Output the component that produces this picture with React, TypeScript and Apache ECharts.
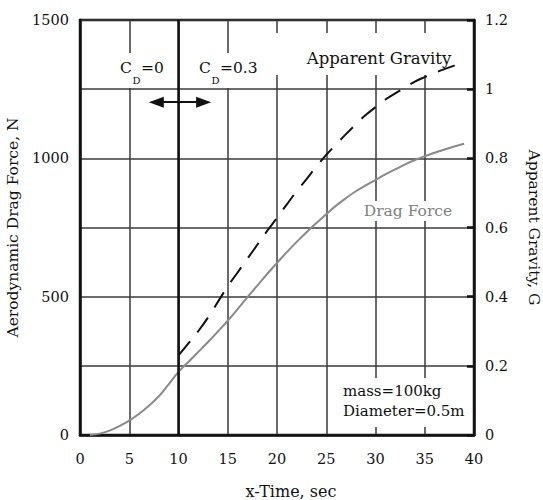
import React, { useEffect, useRef } from "react";
import * as echarts from "echarts";

// ---- data ----
const timeDrag = [1, 2, 3, 4, 5, 6, 7, 8, 9, 10, 11, 12, 13, 14, 15, 16, 17, 18, 19, 20, 21, 22, 23, 24, 25, 26, 27, 28, 29, 30, 31, 32, 33, 34, 35, 36, 37, 38, 39];
const dragForce = [0, 5, 16, 32, 52, 77, 106, 140, 183, 228, 264, 300, 336, 374, 413, 455, 498, 540, 582, 622, 661, 698, 733, 766, 798, 829, 856, 881, 902, 922, 942, 960, 978, 994, 1008, 1020, 1032, 1043, 1053];

const timeGravity = [10, 11, 12, 13, 14, 15, 16, 17, 18, 19, 20, 21, 22, 23, 24, 25, 26, 27, 28, 29, 30, 31, 32, 33, 34, 35, 36, 37, 38, 39];
const apparentGravity = [0.23, 0.265, 0.3, 0.34, 0.385, 0.43, 0.47, 0.51, 0.55, 0.59, 0.628, 0.667, 0.705, 0.74, 0.776, 0.81, 0.84, 0.87, 0.898, 0.925, 0.948, 0.97, 0.988, 1.005, 1.022, 1.035, 1.047, 1.058, 1.068, 1.078];

const cdBoundaryTime = 10;
const arrowFrom = [7.75, 1203];
const arrowTo = [12.55, 1203];

const xTitle = "x-Time, sec";
const yLeftTitle = "Aerodynamic Drag Force, N";
const yRightTitle = "Apparent Gravity, G";
const gravityLabel = "Apparent Gravity";
const dragLabel = "Drag Force";
const massLabel = "mass=100kg";
const diameterLabel = "Diameter=0.5m";

const FONT = "'DejaVu Serif', serif";
const INK = "#111";
const GRAY = "#8a8a8a";

function txt(x: number, y: number, text: string, size: number, align = "left", fill = INK, z = 4) {
  return {
    type: "text",
    z,
    silent: true,
    style: { x, y, text, align, verticalAlign: "middle", font: `${size}px ${FONT}`, fill },
  };
}

export default function App() {
  const ref = useRef<HTMLDivElement>(null);

  useEffect(() => {
    const chart = echarts.init(ref.current!, null, { renderer: "svg" });
    const dragData = timeDrag.map((t, i) => [t, dragForce[i]]);
    const gravData = timeGravity.map((t, i) => [t, apparentGravity[i]]);

    chart.setOption({
      animation: false,
      backgroundColor: "#fff",
      grid: {
        left: 80,
        right: 69,
        top: 20,
        bottom: 65,
        containLabel: false,
        outerBoundsMode: "none",
        show: true,
        borderColor: "#111",
        borderWidth: 2.5,
        backgroundColor: "transparent",
      },
      xAxis: {
        type: "value",
        min: 0,
        max: 40,
        interval: 5,
        name: xTitle,
        nameLocation: "middle",
        nameGap: 48,
        nameTextStyle: { fontFamily: FONT, fontSize: 16, color: INK, padding: [0, 0, 0, 28] },
        axisLine: { show: true, lineStyle: { color: "#111", width: 2.5 } },
        axisTick: { show: false },
        axisLabel: { margin: 16, fontFamily: FONT, fontSize: 14.5, color: INK },
        splitLine: { show: true, lineStyle: { color: "#3a3a3a", width: 1.5 } },
      },
      yAxis: [
        {
          type: "value",
          min: 0,
          max: 1500,
          interval: 250,
          name: yLeftTitle,
          nameLocation: "middle",
          nameGap: 46,
          nameTextStyle: { fontFamily: FONT, fontSize: 15.5, color: INK },
          axisLine: { show: true, lineStyle: { color: "#111", width: 2.5 } },
          axisTick: { show: false },
          axisLabel: {
            margin: 11,
            fontFamily: FONT,
            fontSize: 14.5,
            color: INK,
            formatter: (v: number) => (v % 500 === 0 ? String(v) : ""),
          },
          splitLine: { show: true, lineStyle: { color: "#3a3a3a", width: 1.5 } },
        },
        {
          type: "value",
          min: 0,
          max: 1.2,
          interval: 0.2,
          position: "right",
          name: yRightTitle,
          nameLocation: "middle",
          nameGap: 52,
          nameRotate: -90,
          nameTextStyle: { fontFamily: FONT, fontSize: 15.5, color: INK },
          axisLine: { show: true, lineStyle: { color: "#111", width: 2.5 } },
          axisTick: { show: true, inside: true, length: 7, lineStyle: { color: "#111", width: 2.5 } },
          axisLabel: {
            margin: 11,
            fontFamily: FONT,
            fontSize: 14.5,
            color: INK,
            formatter: (v: number) => String(Math.round(v * 10) / 10),
          },
          splitLine: { show: false },
        },
      ],
      series: [
        {
          name: "Drag Force",
          type: "line",
          yAxisIndex: 0,
          data: dragData,
          smooth: 0.4,
          showSymbol: false,
          symbol: "none",
          z: 3,
          lineStyle: { color: GRAY, width: 2 },
          markLine: {
            silent: true,
            symbol: "none",
            label: { show: false },
            animation: false,
            data: [
              { xAxis: cdBoundaryTime, lineStyle: { color: "#111", width: 2.5, type: "solid" } },
              [
                { coord: arrowFrom, symbol: "triangle", symbolSize: [11, 15] },
                { coord: arrowTo, symbol: "triangle", symbolSize: [11, 15], lineStyle: { color: "#111", width: 2, type: "solid" } },
              ],
            ],
          },
        },
        {
          name: "Apparent Gravity",
          type: "line",
          yAxisIndex: 1,
          data: gravData,
          smooth: 0.4,
          showSymbol: false,
          symbol: "none",
          z: 3,
          lineStyle: { color: "#111", width: 2, type: [18, 12] },
        },
      ],
      graphic: [
        { type: "rect", z: 1, silent: true, shape: { x: 264, y: 33, width: 205, height: 42 }, style: { fill: "#fff" } },
        { type: "rect", z: 1, silent: true, shape: { x: 338, y: 378, width: 133, height: 49 }, style: { fill: "#fff" } },
        { type: "rect", z: 1, silent: true, shape: { x: 116, y: 53, width: 50, height: 35 }, style: { fill: "#fff" } },
        { type: "rect", z: 1, silent: true, shape: { x: 195, y: 53, width: 63, height: 35 }, style: { fill: "#fff" } },
        { type: "rect", z: 1, silent: true, shape: { x: 360, y: 201, width: 96, height: 20 }, style: { fill: "#fff" } },
        txt(120, 68, "C", 15.5),
        txt(132.5, 80, "D", 10),
        txt(141, 68, "=0", 15.5),
        txt(199, 68, "C", 15.5),
        txt(211.5, 80, "D", 10),
        txt(220, 68, "=0.3", 15.5),
        txt(379, 58, gravityLabel, 16.5, "center"),
        txt(408, 211, dragLabel, 15.5, "center", "#808080"),
        txt(343, 391, massLabel, 15),
        txt(343, 411, diameterLabel, 15),
      ],
    });

    return () => chart.dispose();
  }, []);

  return (
    <div
      ref={ref}
      style={{ position: "fixed", left: 0, top: 0, width: 543, height: 500, background: "#fff" }}
    />
  );
}
